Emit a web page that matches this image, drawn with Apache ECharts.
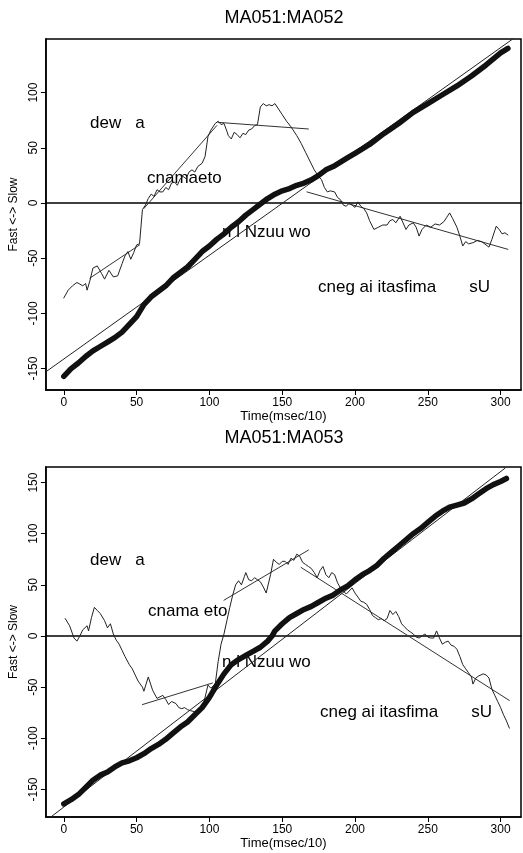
<!DOCTYPE html>
<html>
<head>
<meta charset="utf-8">
<script src="https://cdn.jsdelivr.net/npm/echarts@6/dist/echarts.min.js"></script>
<style>
html,body{margin:0;padding:0;background:#fff;}
#chart{width:523px;height:853px;}
</style>
</head>
<body>
<div id="chart"></div>
<script>
// ---------- tick labels ----------
var xTicks = [0, 50, 100, 150, 200, 250, 300];
var yTicks1 = [-150, -100, -50, 0, 50, 100];
var yTicks2 = [-150, -100, -50, 0, 50, 100, 150];

// ---------- panel 1 : MA051:MA052 ----------
var p1CumX = [0,5,10,15,20,25,30,35,40,45,50,55,60,65,70,75,80,85,90,95,100,105,110,115,120,125,130,135,140,145,150,155,160,165,170,175,180,185,190,195,200,210,220,230,240,250,260,270,280,290,300,305];
var p1CumY = [-157,-150,-145,-139,-134,-130,-126,-122,-117,-110,-103,-92,-85,-80,-75,-68,-63,-58,-51,-44,-39,-33,-28,-22,-17,-11,-6,-1,4,8,11,13,16,18,21,25,30,33,37,41,45,53,63,72,82,90,98,106,115,125,136,140];

var p1DiffX = [0,3,6,9,13,15,16,18,20,23,26,28,31,34,37,40,42,44,46,48,50,52,54,56,58,60,62,64,66,68,70,72,74,76,78,80,82,84,86,88,90,92,95,97,99,101,104,106,108,110,112,113,115,117,119,121,123,125,127,129,131,133,135,137,139,141,143,145,147,150,153,156,160,163,166,169,172,175,177,179,181,183,186,188,190,192,194,196,198,200,202,204,206,208,210,213,216,219,222,224,226,228,231,233,235,237,240,242,244,246,249,252,255,258,261,263,265,267,270,272,274,276,278,281,284,287,290,292,294,296,297,299,301,303,305];
var p1DiffY = [-86,-79,-75,-72,-75,-73,-79,-70,-59,-57,-64,-69,-61,-67,-66,-55,-48,-44,-51,-45,-38,-37,-6,-2,4,8,6,12,10,10,14,12,18,19,16,22,24,22,28,30,28,33,36,42,60,66,72,74,71,72,65,61,58,64,62,59,63,62,66,67,70,71,87,90,88,89,88,90,86,80,74,69,61,54,46,38,30,24,21,14,10,11,10,5,3,-2,-3,0,-2,-4,1,-3,-5,-9,-16,-24,-22,-20,-20,-16,-15,-18,-12,-18,-24,-20,-18,-22,-30,-24,-20,-22,-19,-20,-17,-13,-9,-14,-22,-30,-39,-35,-37,-36,-34,-35,-38,-40,-33,-25,-21,-24,-28,-27,-29];

var p1RegX = [-12.3, 308];
var p1RegY = [-152.9, 148.2];
var p1FitAX = [18, 52];   var p1FitAY = [-68, -38];
var p1FitBX = [55, 105];  var p1FitBY = [-5, 70];
var p1FitCX = [106, 168]; var p1FitCY = [73, 67];
var p1FitDX = [167, 305]; var p1FitDY = [10, -42];

// ---------- panel 2 : MA051:MA053 ----------
var p2CumX = [0,5,10,15,20,25,30,35,40,45,50,55,60,65,70,75,80,85,90,95,100,105,110,115,120,125,130,135,140,143,145,150,155,160,165,170,175,180,185,190,195,200,205,210,215,220,225,230,235,240,245,250,255,260,265,270,275,280,285,290,295,300,304];
var p2CumY = [-164,-160,-155,-148,-141,-136,-133,-128,-124,-122,-119,-115,-110,-106,-101,-95,-89,-84,-77,-70,-60,-48,-37,-28,-23,-19,-15,-11,-5,0,5,12,18,22,26,29,33,37,40,45,49,55,60,64,69,76,82,88,94,100,105,111,117,122,126,128,130,134,139,144,148,151,154];

var p2DiffX = [1,4,7,9,11,13,16,17,19,21,23,25,28,30,32,34,36,38,40,42,45,47,49,51,54,55,58,61,64,68,70,72,74,77,79,81,83,85,87,90,92,95,97,99,101,104,106,108,110,112,114,116,118,120,122,124,125,127,129,131,133,135,137,139,140,142,144,146,148,150,152,154,156,158,160,162,164,166,168,170,172,174,176,178,180,182,184,186,188,190,192,194,196,198,200,202,204,206,208,210,212,214,216,218,220,222,224,226,228,230,232,234,236,238,240,242,244,246,248,250,252,254,256,258,260,262,264,266,268,270,272,274,276,278,280,281,283,285,288,290,292,294,296,298,300,302,304,306];
var p2DiffY = [17,10,-2,-5,0,6,10,5,18,28,25,22,15,8,12,2,-4,-8,-14,-20,-28,-32,-38,-44,-50,-54,-40,-53,-61,-58,-62,-67,-64,-66,-70,-71,-70,-72,-73,-74,-72,-70,-60,-48,-51,-47,-25,-8,2,15,28,40,50,54,50,58,62,55,54,57,55,53,48,42,41,60,75,72,70,73,73,70,76,74,80,78,72,70,68,66,62,57,64,68,60,57,62,60,52,47,44,41,44,47,42,38,34,33,31,26,20,18,16,17,15,17,25,21,24,19,12,9,6,4,2,-1,-2,0,2,-1,-2,-2,5,-2,-8,-6,-5,-9,-10,-13,-20,-28,-32,-36,-40,-47,-41,-39,-37,-38,-41,-52,-58,-64,-70,-77,-83,-90];

var p2RegX = [-9, 303];
var p2RegY = [-177, 164];
var p2FitAX = [54, 102];  var p2FitAY = [-67, -46];
var p2FitBX = [110, 168]; var p2FitBY = [35, 84];
var p2FitCX = [163, 306]; var p2FitCY = [67, -63];

// ---------- annotation texts ----------
var titles = ['MA051:MA052', 'MA051:MA053'];
var xName = 'Time(msec/10)';
var yName = 'Fast <-> Slow';
var notes = ['dew   a', 'cnamaeto', 'n l Nzuu wo', 'cneg ai itasfima       sU'];
var notes2 = ['dew   a', 'cnama eto', 'n l Nzuu wo', 'cneg ai itasfima       sU'];

function zip(xs, ys) { return xs.map(function (x, i) { return [x, ys[i]]; }); }

var FONT = '"Liberation Sans", Arial, Helvetica, sans-serif';

function lineSeries(idx, xs, ys, width, color, z) {
  return {
    type: 'line', xAxisIndex: idx, yAxisIndex: idx,
    data: zip(xs, ys), showSymbol: false, symbol: 'none',
    lineStyle: { width: width, color: color, cap: 'round', join: 'round' },
    z: z || 2, silent: true, animation: false, clip: true
  };
}

function xAxis(idx, min, max) {
  return {
    type: 'value', gridIndex: idx, min: min, max: max,
    name: xName, nameLocation: 'middle', nameGap: 19,
    nameTextStyle: { fontFamily: FONT, fontSize: 13, color: '#000' },
    axisLine: { show: true, onZero: false, lineStyle: { color: '#000', width: 1.5 } },
    axisTick: { show: true, inside: false, length: 5, customValues: xTicks, lineStyle: { color: '#000', width: 1 } },
    axisLabel: { customValues: xTicks, margin: 7, fontFamily: FONT, fontSize: 12, color: '#000' },
    splitLine: { show: false }
  };
}
function yAxis(idx, min, max, ticks) {
  return {
    type: 'value', gridIndex: idx, min: min, max: max,
    name: yName, nameLocation: 'middle', nameGap: 23,
    nameTextStyle: { fontFamily: FONT, fontSize: 12, color: '#000' },
    axisLine: { show: true, onZero: false, lineStyle: { color: '#000', width: 1.5 } },
    axisTick: { show: true, inside: false, length: 5, customValues: ticks, lineStyle: { color: '#000', width: 1 } },
    axisLabel: { customValues: ticks, rotate: 90, margin: 6, fontFamily: FONT, fontSize: 12, color: '#000' },
    splitLine: { show: false }
  };
}

var chart = echarts.init(document.getElementById('chart'), null, { renderer: 'canvas' });

var X1 = [-12.3, 314], Y1 = [-169.4, 148.5];
var X2 = [-12.3, 314], Y2 = [-176.9, 165.2];

var series = [
  // panel 1
  lineSeries(0, [X1[0], X1[1]], [0, 0], 1.5, '#000', 1),
  lineSeries(0, p1RegX, p1RegY, 1, '#222', 2),
  lineSeries(0, p1FitAX, p1FitAY, 1, '#333', 2),
  lineSeries(0, p1FitBX, p1FitBY, 1, '#333', 2),
  lineSeries(0, p1FitCX, p1FitCY, 1, '#333', 2),
  lineSeries(0, p1FitDX, p1FitDY, 1, '#333', 2),
  lineSeries(0, p1DiffX, p1DiffY, 1, '#222', 3),
  lineSeries(0, p1CumX, p1CumY, 5.5, '#111', 4),
  // panel 2
  lineSeries(1, [X2[0], X2[1]], [0, 0], 1.5, '#000', 1),
  lineSeries(1, p2RegX, p2RegY, 1, '#222', 2),
  lineSeries(1, p2FitAX, p2FitAY, 1, '#333', 2),
  lineSeries(1, p2FitBX, p2FitBY, 1, '#333', 2),
  lineSeries(1, p2FitCX, p2FitCY, 1, '#333', 2),
  lineSeries(1, p2DiffX, p2DiffY, 1, '#222', 3),
  lineSeries(1, p2CumX, p2CumY, 5.5, '#111', 4)
];

function txt(x, y, s, size, align) {
  return { type: 'text', x: x, y: y, silent: true,
    style: { text: s, fontFamily: FONT, fontSize: size, fill: '#000', textAlign: align || 'left', textVerticalAlign: 'middle' } };
}

var option = {
  backgroundColor: '#fff',
  animation: false,
  grid: [
    { left: 43, top: 39, width: 478, height: 351, show: true, borderColor: '#000', borderWidth: 1.5, backgroundColor: 'transparent' },
    { left: 43, top: 467, width: 478, height: 350, show: true, borderColor: '#000', borderWidth: 1.5, backgroundColor: 'transparent' }
  ],
  xAxis: [xAxis(0, X1[0], X1[1]), xAxis(1, X2[0], X2[1])],
  yAxis: [yAxis(0, Y1[0], Y1[1], yTicks1), yAxis(1, Y2[0], Y2[1], yTicks2)],
  series: series,
  graphic: [
    txt(284, 18, titles[0], 18, 'center'),
    txt(284, 438, titles[1], 18, 'center'),
    txt(90, 123, notes[0], 17),
    txt(147, 178, notes[1], 17),
    txt(222, 232, notes[2], 17),
    txt(318, 287, notes[3], 17),
    txt(90, 560, notes2[0], 17),
    txt(148, 611, notes2[1], 17),
    txt(222, 662, notes2[2], 17),
    txt(320, 712, notes2[3], 17)
  ]
};
chart.setOption(option);
</script>
</body>
</html>
